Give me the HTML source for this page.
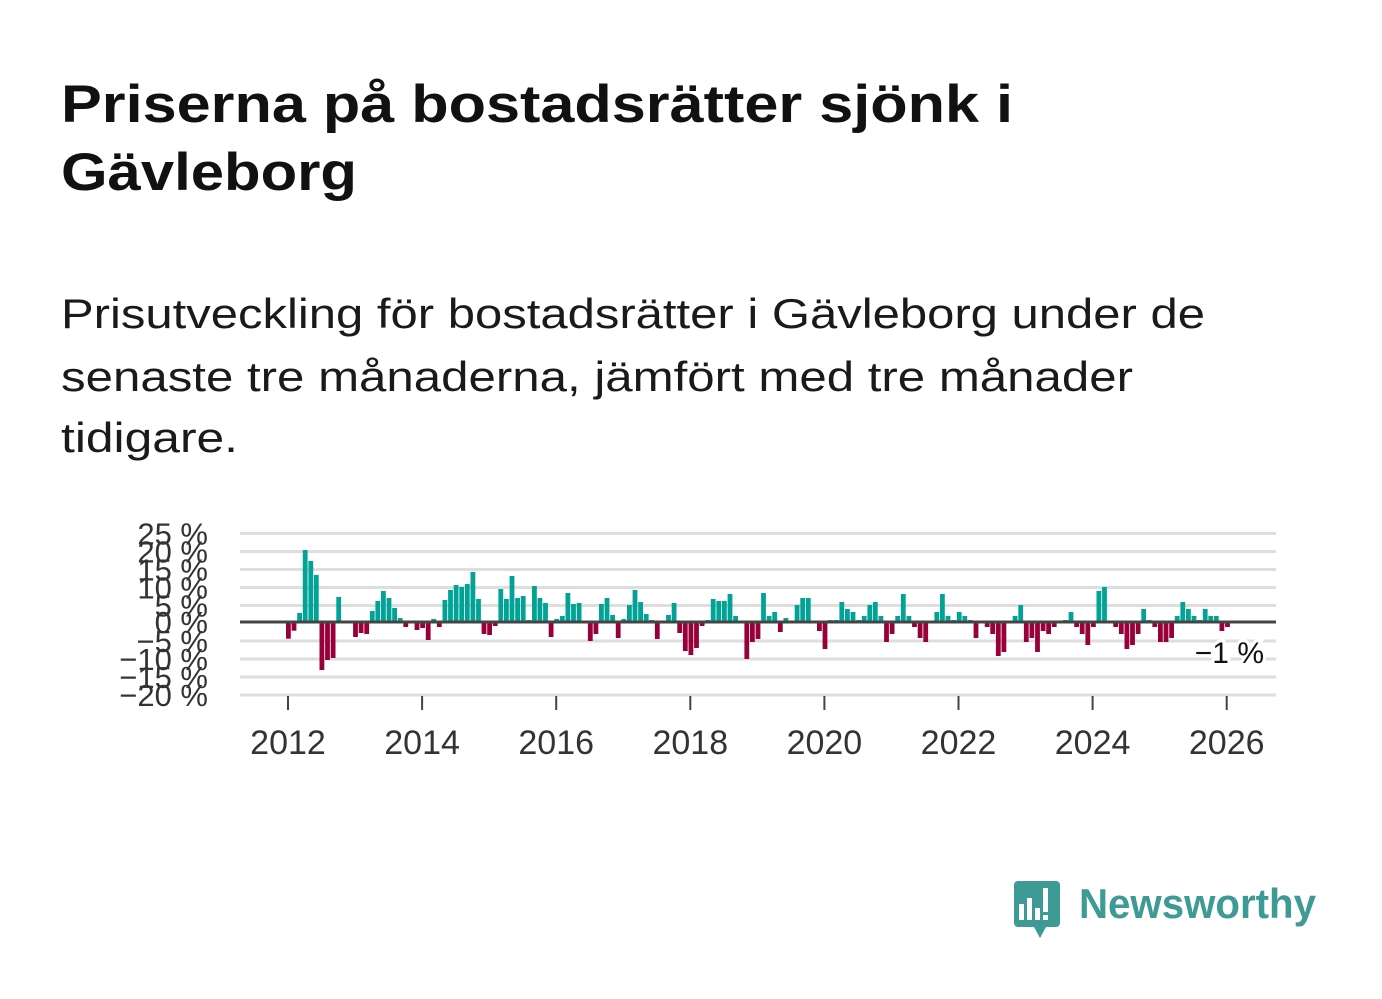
<!DOCTYPE html>
<html><head><meta charset="utf-8"><style>
body{margin:0;width:1382px;height:999px;background:#fff;overflow:hidden;font-family:"Liberation Sans",sans-serif;color:#111}
</style></head><body>
<svg id="c" width="1382" height="999" style="position:absolute;left:0;top:0" xmlns="http://www.w3.org/2000/svg">
<g font-family="Liberation Sans, sans-serif">
<text x="61" y="122" font-size="53" font-weight="bold" fill="#111" textLength="952" lengthAdjust="spacingAndGlyphs">Priserna på bostadsrätter sjönk i</text>
<text x="61" y="190" font-size="53" font-weight="bold" fill="#111" textLength="296" lengthAdjust="spacingAndGlyphs">Gävleborg</text>
<text x="61" y="328" font-size="42" fill="#1a1a1a" textLength="1144" lengthAdjust="spacingAndGlyphs">Prisutveckling för bostadsrätter i Gävleborg under de</text>
<text x="61" y="391" font-size="42" fill="#1a1a1a" textLength="1072" lengthAdjust="spacingAndGlyphs">senaste tre månaderna, jämfört med tre månader</text>
<text x="61" y="452" font-size="42" fill="#1a1a1a" textLength="177" lengthAdjust="spacingAndGlyphs">tidigare.</text>
</g>
<g id="g"></g>
</svg>
<script>
var s='';
var grid=[[25,533.5],[20,551.5],[15,569.5],[10,587.5],[5,605.5],[0,622],[-5,641],[-10,659],[-15,677],[-20,695]];
grid.forEach(function(g){
 if(g[0]!==0) s+='<line x1="240" x2="1276" y1="'+g[1]+'" y2="'+g[1]+'" stroke="#dedede" stroke-width="3"/>';
 s+='<text x="208" y="'+(g[1]+11)+'" text-anchor="end" font-size="31" fill="#333">'+(g[0]<0?'\u2212'+(-g[0]):g[0])+' %</text>';
});
var v={0:638.7,1:630.7,2:613,3:550,4:561,5:575,6:670,7:660,8:658,9:597,12:637,13:633,14:634,15:611,16:601,17:591,18:598,19:608,20:618,21:627,23:630,24:628,25:640,26:619,27:627,28:600,29:590,30:585,31:587,32:584,33:572,34:599,35:634,36:635,37:626,38:589,39:599,40:576,41:598,42:596,43:620,44:586,45:598,46:603,47:637,48:619,49:616,50:593,51:604,52:603,54:641,55:634,56:604,57:598,58:615,59:638,60:619,61:605,62:590,63:602,64:614,65:620,66:639,68:615,69:603,70:633,71:651,72:655,73:648,74:626,75:620,76:599,77:601,78:601,79:594,80:616,82:659,83:642,84:639,85:593,86:616,87:612,88:632,89:618,91:605,92:598,93:598,95:631,96:649,97:620,98:620,99:602,100:609,101:612,102:620,103:616,104:605,105:602,106:616,107:642,108:634,109:616,110:594,111:616,112:627,113:638,114:642,116:612,117:594,118:616,119:620,120:612,121:616,122:620,123:638,125:627,126:634,127:656,128:652,130:616,131:605,132:642,133:638,134:652,135:631,136:634,137:627,139:620,140:612,141:627,142:634,143:645,144:627,145:591,146:587,148:627,149:634,150:649,151:645,152:634,153:609,154:620,155:627,156:642,157:642,158:638,159:616,160:602,161:609,162:616,163:620,164:609,165:616,166:616,167:631,168:627};
for(var i in v){var x=286+5.59*i,y=v[i];
 if(y<622) s+='<rect x="'+x.toFixed(1)+'" y="'+y+'" width="4.8" height="'+(622-y)+'" fill="#00a396"/>';
 else s+='<rect x="'+x.toFixed(1)+'" y="622" width="4.8" height="'+(y-622)+'" fill="#970038"/>';}
s+='<line x1="240" x2="1276" y1="622" y2="622" stroke="#444" stroke-width="3"/>';
[2012,2014,2016,2018,2020,2022,2024,2026].forEach(function(yr,k){var x=288+134.1*k;
 s+='<line x1="'+x+'" x2="'+x+'" y1="696" y2="710" stroke="#444" stroke-width="2"/>';
 s+='<text x="'+x+'" y="754" text-anchor="middle" font-size="34" fill="#333">'+yr+'</text>';});
s+='<text x="1264" y="663" text-anchor="end" font-size="30" fill="#111" stroke="#fff" stroke-width="6" paint-order="stroke">\u22121 %</text>';
s+='<path d="M1018 881 h38 a4 4 0 0 1 4 4 v38 a4 4 0 0 1 -4 4 h-10 l-6 11 l-6 -11 h-16 a4 4 0 0 1 -4 -4 v-38 a4 4 0 0 1 4 -4 z" fill="#3d9a94"/>';
s+='<rect x="1019" y="904" width="5" height="16" fill="#fff"/><rect x="1027" y="898" width="5" height="22" fill="#fff"/><rect x="1035" y="908" width="5" height="12" fill="#fff"/><rect x="1043" y="888" width="5" height="24" fill="#fff"/><rect x="1043" y="915" width="5" height="5" fill="#fff"/>';
s+='<text x="1079" y="918" font-size="42" font-weight="bold" fill="#3d9a94" textLength="237" lengthAdjust="spacingAndGlyphs">Newsworthy</text>';
document.getElementById('g').innerHTML=s;
</script>
</body></html>
